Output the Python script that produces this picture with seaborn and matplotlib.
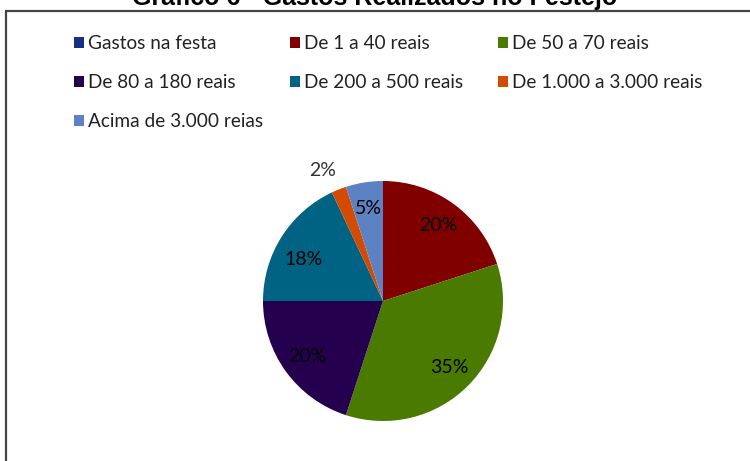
import numpy as np
import pandas as pd
import seaborn as sns
import matplotlib.pyplot as plt
from matplotlib.lines import Line2D

# data
categorias = ['Gastos na festa', 'De 1 a 40 reais', 'De 50 a 70 reais',
              'De 80 a 180 reais', 'De 200 a 500 reais',
              'De 1.000 a 3.000 reais', 'Acima de 3.000 reias']
percentuais = [0, 20, 35, 20, 18, 2, 5]
cores = ['#17307f', '#800000', '#4a7a00', '#24004f', '#006384', '#d24b00', '#5c82c3']
titulo = 'Gráfico 6 - Gastos Realizados no Festejo'

df = pd.DataFrame({'categoria': categorias, 'pct': percentuais, 'cor': cores})

sns.set_theme(style='white')
plt.rcParams['font.family'] = ['Lato', 'DejaVu Sans']

W, H = 750, 461
fig = plt.figure(figsize=(7.5, 4.61), dpi=100)

# pie axes: centre (383, 301) px, radius 120 px
ax = fig.add_axes([263 / W, 1 - 421 / H, 240 / W, 240 / H])


def rotulo(p):
    return '' if p < 0.5 else '%.0f%%' % p


wedges, textos, autotextos = ax.pie(
    df['pct'], colors=df['cor'], startangle=90, counterclock=False,
    autopct=rotulo, pctdistance=0.78,
    wedgeprops={'linewidth': 0, 'edgecolor': 'none'},
    textprops={'fontsize': 14, 'color': 'black'})
ax.set_xlim(-1, 1)
ax.set_ylim(-1, 1)
ax.set_aspect('equal')

# the 2% label sits outside the slice
x, y = autotextos[5].get_position()
r = np.hypot(x, y)
autotextos[5].set_position((x / r * 1.17 - 0.07, y / r * 1.17))
autotextos[5].set_color('#333333')
# 18% label sits a little lower in the original
x, y = autotextos[4].get_position()
autotextos[4].set_position((x, y - 0.07))

# legend, three columns filled row by row like the original
colunas = [[0, 3, 6], [1, 4], [2, 5]]
xs = [74, 290, 498]
for col, x0 in zip(colunas, xs):
    handles = [plt.Rectangle((0, 0), 1, 1, facecolor=cores[i], edgecolor='none') for i in col]
    leg = fig.legend(handles, [categorias[i] for i in col], loc='upper left',
                     bbox_to_anchor=(x0 / W, 1 - 35 / H), frameon=False,
                     fontsize=13.7, borderpad=0, borderaxespad=0,
                     handlelength=0.5, handleheight=0.5, handletextpad=0.22,
                     labelspacing=1.16)
    for t in leg.get_texts():
        t.set_color('#222222')

# chart border (only top and left edges are inside the picture)
fig.add_artist(Line2D([6 / W, 1.0], [1 - 11 / H, 1 - 11 / H], color='#444444', lw=1.6))
fig.add_artist(Line2D([6 / W, 6 / W], [0, 1 - 11 / H], color='#444444', lw=1.6))

# title, cut off by the top edge of the picture
fig.text(375 / W, 1 - 5 / H, titulo, ha='center', va='baseline',
         fontsize=18, fontweight='bold', family='Liberation Sans', color='black')

fig.savefig('out.png', dpi=100)
